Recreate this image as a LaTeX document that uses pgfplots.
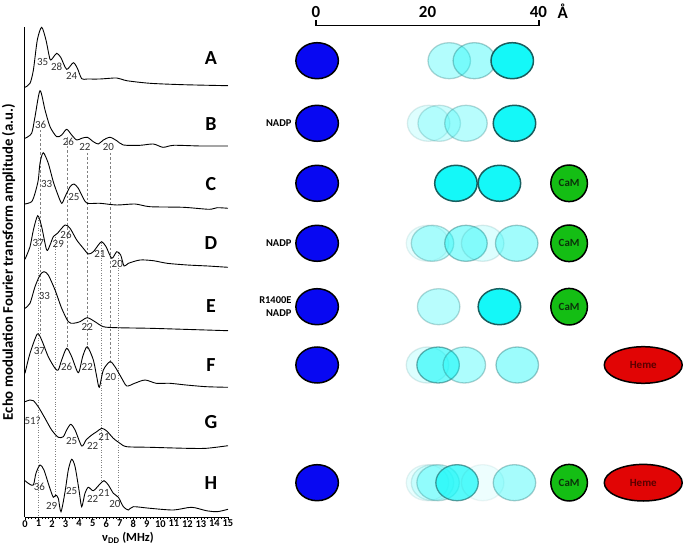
\documentclass[border=0pt]{standalone}
\usepackage{pgfplots}
\pgfplotsset{compat=1.18}
\usepackage{fontspec}
\setmainfont{Carlito}
\definecolor{lblgray}{RGB}{50,50,50}
\definecolor{myblue}{RGB}{8,8,242}
\definecolor{mycyan}{RGB}{20,248,248}
\definecolor{myteal}{RGB}{25,95,95}
\definecolor{lteal}{RGB}{40,120,120}
\definecolor{mygreen}{RGB}{20,190,20}
\definecolor{myred}{RGB}{225,5,5}
\definecolor{hemetxt}{RGB}{90,0,0}
\definecolor{camtxt}{RGB}{10,50,10}
\newcommand{\cy}[3]{\addplot[only marks, mark=*, mark size=18bp,
  mark options={xscale=1.18, fill=mycyan, draw=lteal, fill opacity=#3, draw opacity=#3, line width=1.3bp}]
  coordinates {(#1,#2)};}
\newcommand{\cys}[2]{\addplot[only marks, mark=*, mark size=18bp,
  mark options={xscale=1.18, fill=mycyan, draw=myteal, line width=1.5bp}]
  coordinates {(#1,#2)};}
\newcommand{\pklab}[3]{\node[font=\fontsize{11}{11}\selectfont, text=lblgray, inner sep=0pt] at (axis cs:#1,#2) {#3};}
\newcommand{\panlab}[3]{\node[font=\bfseries\fontsize{20}{20}\selectfont, inner sep=0pt] at (axis cs:#1,#2) {#3};}
\begin{document}
\begin{tikzpicture}
\useasboundingbox (0,0) rectangle (683bp,549bp);
% ---------------- left panel: spectra ----------------
\begin{axis}[
  at={(25bp,32bp)}, anchor=south west,
  x=13.533bp, y=1bp,
  xmin=0, xmax=15, ymin=0, ymax=490,
  axis lines*=left,
  axis line style={-, line width=1bp},
  ytick=\empty,
  xtick={0,1,...,15},
  minor x tick num=3,
  tick align=outside,
  major tick length=3bp, minor tick length=2bp,
  every tick/.style={black, line width=0.6bp},
  xticklabel style={font=\bfseries\fontsize{10.5}{11}\selectfont, inner sep=1pt, yshift=1bp},
  /pgf/number format/assume math mode=true,
  clip=false,
]
% guide lines
\addplot[gray, dashed, dash pattern=on 2.5bp off 2bp, line width=0.5bp] coordinates {(1.11,387) (1.11,184)};
\addplot[gray, dashed, dash pattern=on 2.5bp off 2bp, line width=0.5bp] coordinates {(3.12,380) (3.12,167)};
\addplot[gray, dashed, dash pattern=on 2.5bp off 2bp, line width=0.5bp] coordinates {(4.6,364) (4.6,167)};
\addplot[gray, dashed, dash pattern=on 2.5bp off 2bp, line width=0.5bp] coordinates {(6.28,364) (6.28,154)};
\addplot[gray, dotted, line width=0.5bp] coordinates {(0.96,299) (0.96,2)};
\addplot[gray, dotted, line width=0.5bp] coordinates {(2.27,280) (2.27,20)};
\addplot[gray, dotted, line width=0.5bp] coordinates {(5.67,274) (5.67,33)};
\addplot[gray, dotted, line width=0.5bp] coordinates {(6.9,264) (6.9,17)};
% A
\addplot[black, line width=0.9bp, smooth, tension=0.45] coordinates {
(0,429.7) (0.37,433.7) (0.62,447) (0.91,477) (1.23,489.7) (1.55,477) (1.85,457.7) (2.09,459.7) (2.34,463.7) (2.64,459.7) (3.08,447.7) (3.57,454.3) (3.87,448.7) (4.19,438.3) (4.6,438) (5.54,438) (6.78,439) (7.52,436.3) (9.24,433.7) (11.7,432.3) (15,431.3)};
% B
\addplot[black, line width=0.9bp, smooth, tension=0.45] coordinates {
(0,378.7) (0.49,383.7) (0.74,400.3) (1.11,426.3) (1.48,407) (1.85,390.3) (2.34,380.3) (2.71,382) (3.08,387.7) (3.45,382) (3.82,377) (4.19,378.7) (4.61,379.7) (5.05,375.3) (5.42,373) (5.79,377) (6.28,379.7) (6.78,376.3) (7.27,372) (8.5,371.7) (9.48,373) (10.2,369.7) (11,371.7) (13,371) (15,371)};
% C
\addplot[black, line width=0.9bp, smooth, tension=0.45] coordinates {
(0,313) (0.49,315.3) (0.74,323.7) (0.98,337) (1.11,354) (1.35,364.3) (1.72,353.7) (2.09,335.3) (2.39,323.7) (2.71,313.7) (2.96,320.3) (3.33,330.3) (3.62,333) (3.94,328.7) (4.31,318.7) (4.6,313.7) (5.54,313.7) (6.78,312) (8.13,313) (9.24,310.3) (11.7,309.7) (13.6,307.7) (14.2,309.3) (15,308.7)};
% D
\addplot[black, line width=0.9bp, smooth, tension=0.45] coordinates {
(0,257.7) (0.37,270.3) (0.62,287) (0.94,301.3) (1.23,290.3) (1.6,267) (1.85,272) (2.09,280.3) (2.4,283.7) (2.96,292) (3.33,288.7) (3.82,277) (4.31,268.7) (4.68,263) (5.05,265.3) (5.42,272) (5.67,275.3) (5.99,270.3) (6.41,258.7) (6.78,265.3) (7.07,262) (7.32,251) (7.64,253.7) (8.5,257) (9.48,256.3) (10.5,253.7) (12,252) (13.5,251) (15,249.7)};
% E
\addplot[black, line width=0.9bp, smooth, tension=0.45] coordinates {
(0,208.7) (0.37,213.7) (0.74,230.3) (1.11,242) (1.4,245.3) (1.72,242) (2.22,227) (2.71,208.7) (3.2,195.3) (3.57,193.7) (4.06,195.3) (4.6,199.3) (5.17,195.3) (5.79,190.3) (6.78,189.3) (9.24,188.7) (11.7,187.7) (15,186.3)};
% F
\addplot[black, line width=0.9bp, smooth, tension=0.45] coordinates {
(0,143.7) (0.37,163.7) (0.91,183) (1.23,177) (1.72,160.3) (2.22,148.7) (2.46,147) (2.71,157) (3.08,168.7) (3.45,160.3) (3.94,144.3) (4.26,160.3) (4.6,170.3) (5.05,157) (5.3,140.3) (5.49,129.7) (5.79,147) (6.28,155.3) (6.65,150.3) (7.15,138.7) (7.52,131) (8.1,133.7) (8.87,137) (9.7,133.7) (10.7,133.7) (11.9,132) (13.4,130.3) (15,129.7)};
% G
\addplot[black, line width=0.9bp, smooth, tension=0.45] coordinates {
(0,115.3) (0.37,117) (0.62,116.3) (0.98,110.3) (1.48,98.7) (1.97,87) (2.46,79.7) (2.83,80.3) (3.08,87) (3.38,92.7) (3.7,87) (4.19,71) (4.51,77) (4.93,82) (5.3,85.3) (5.67,88.7) (6.04,86) (6.53,78.7) (7.02,73.7) (7.52,70.3) (9.24,69.7) (11.9,68.7) (13.4,68.7) (15,71.3)};
% H
\addplot[black, line width=0.9bp, smooth, tension=0.45] coordinates {
(0,36.3) (0.32,33) (0.62,32) (0.81,43.7) (1.11,52) (1.4,47) (1.8,30.3) (2.09,19.7) (2.27,22) (2.46,18.7) (2.66,5.3) (2.96,25.3) (3.2,47) (3.45,57.7) (3.7,50.3) (3.99,27) (4.19,10.3) (4.43,23.7) (4.68,29.7) (5.05,26.3) (5.54,33) (5.84,36.3) (6.16,32) (6.53,23.7) (6.9,19.7) (7.27,10.3) (7.64,7) (8.0,10.3) (9.24,8.7) (10.96,7) (12.3,9.7) (13.4,6.3) (14.2,5.3) (15,7.7)};
% peak labels
\pklab{1.3}{455.3}{35} \pklab{2.34}{450.3}{28} \pklab{3.45}{441}{24}
\pklab{1.15}{392}{36} \pklab{3.2}{375.3}{26} \pklab{4.43}{369.7}{22} \pklab{6.16}{370.3}{20}
\pklab{1.6}{333}{33} \pklab{3.62}{320.3}{25}
\pklab{0.98}{273.7}{37} \pklab{2.46}{273}{29} \pklab{3.03}{282}{26} \pklab{5.54}{263}{21} \pklab{6.82}{253}{20}
\pklab{1.43}{221}{33} \pklab{4.6}{190.3}{22}
\pklab{1.06}{166.3}{37} \pklab{3.08}{149.7}{26} \pklab{4.6}{149.7}{22} \pklab{6.33}{139.7}{20}
\pklab{0.57}{96.3}{51?} \pklab{3.45}{76.3}{25} \pklab{5.0}{71}{22} \pklab{5.84}{80.3}{21}
\pklab{1.06}{29.7}{36} \pklab{1.97}{11}{29} \pklab{3.45}{26.3}{25} \pklab{5.0}{17.7}{22} \pklab{5.84}{24.3}{21} \pklab{6.65}{13}{20}
% panel letters
\panlab{13.74}{459}{A} \panlab{13.74}{393}{B} \panlab{13.74}{333}{C} \panlab{13.74}{274}{D}
\panlab{13.74}{211}{E} \panlab{13.74}{152}{F} \panlab{13.74}{95.3}{G} \panlab{13.74}{34.3}{H}
% axis labels
\node[font=\bfseries\fontsize{12.5}{13}\selectfont] at (axis cs:7.61,-21) {ν\textsubscript{DD} (MHz)};
\node[font=\bfseries\fontsize{14.8}{15}\selectfont, rotate=90] at (axis cs:-1.22,255) {Echo modulation Fourier transform amplitude (a.u.)};
\end{axis}
% ---------------- right panel: distance sketch ----------------
\begin{axis}[
  at={(260.25bp,32bp)}, anchor=south west,
  x=5.575bp, y=1bp,
  xmin=-10, xmax=70, ymin=0, ymax=490,
  hide axis, clip=false,
]
% scale bar
\addplot[black, line width=1.8bp] coordinates {(0,496.5) (0,491.5) (40,491.5) (40,496.5)};
\node[font=\bfseries\fontsize{17}{17}\selectfont] at (axis cs:0,505.3) {0};
\node[font=\bfseries\fontsize{17}{17}\selectfont] at (axis cs:20,505.3) {20};
\node[font=\bfseries\fontsize{17}{17}\selectfont] at (axis cs:39.9,505.3) {40};
\node[font=\bfseries\fontsize{17}{17}\selectfont] at (axis cs:44.25,505.3) {Å};
% blue ellipses
\addplot[only marks, mark=*, mark size=18bp, mark options={xscale=1.18, fill=myblue, draw=black, line width=1.5bp}]
 coordinates {(0.2,456.3) (0.2,393.7) (0.2,333.7) (0.2,273.7) (0.2,210.3) (0.2,152) (0.2,34.3)};
% A
\cy{23.9}{456.3}{0.32} \cy{28.4}{456.3}{0.38} \cys{35.2}{456.3}
% B
\cy{20.2}{393.7}{0.14} \cy{22.1}{393.7}{0.22} \cy{26.9}{393.7}{0.3} \cys{35.6}{393.7}
% C
\cys{25.1}{333.7} \cys{32.9}{333.7}
% D
\cy{20.0}{273.7}{0.1} \cy{20.9}{273.7}{0.3} \cy{26.9}{273.7}{0.45} \cy{29.9}{273.7}{0.15} \cy{36.0}{273.7}{0.4}
% E
\cy{22.0}{210.3}{0.3} \cys{32.9}{210.3}
% F
\cy{20.0}{152}{0.15} \cy{21.9}{152}{0.6} \cy{26.6}{152}{0.35} \cy{36.1}{152}{0.42}
% H
\cy{20.0}{34.3}{0.1} \cy{20.9}{34.3}{0.15} \cy{21.9}{34.3}{0.3} \cy{25.3}{34.3}{0.72} \cy{29.9}{34.3}{0.08} \cy{35.6}{34.3}{0.38}
% CaM
\addplot[only marks, mark=*, mark size=18.3bp, mark options={fill=mygreen, draw=black, line width=1.5bp},
  nodes near coords={\bfseries\fontsize{11}{11}\selectfont CaM}, nodes near coords align=center,
  every node near coord/.append style={text=camtxt, anchor=center, opacity=1, text opacity=1}]
 coordinates {(45.4,333.7) (45.4,273.7) (45.4,210.3) (45.4,34.3)};
% Heme
\addplot[only marks, mark=*, mark size=18.3bp, mark options={xscale=2.13, fill=myred, draw=black, line width=1.5bp},
  nodes near coords={\bfseries\fontsize{11}{11}\selectfont Heme}, nodes near coords align=center,
  every node near coord/.append style={text=hemetxt, anchor=center, opacity=1, text opacity=1}]
 coordinates {(58.7,152) (58.7,34.3)};
\node[font=\bfseries\fontsize{10.5}{11}\selectfont, anchor=east, inner sep=0pt] at (axis cs:-4.36,393.7) {NADP};
\node[font=\bfseries\fontsize{10.5}{11}\selectfont, anchor=east, inner sep=0pt] at (axis cs:-4.36,273.7) {NADP};
\node[font=\bfseries\fontsize{10.5}{13}\selectfont, anchor=east, inner sep=0pt, align=right] at (axis cs:-4.36,210.3) {R1400E\\NADP};
\end{axis}
\end{tikzpicture}
\end{document}
